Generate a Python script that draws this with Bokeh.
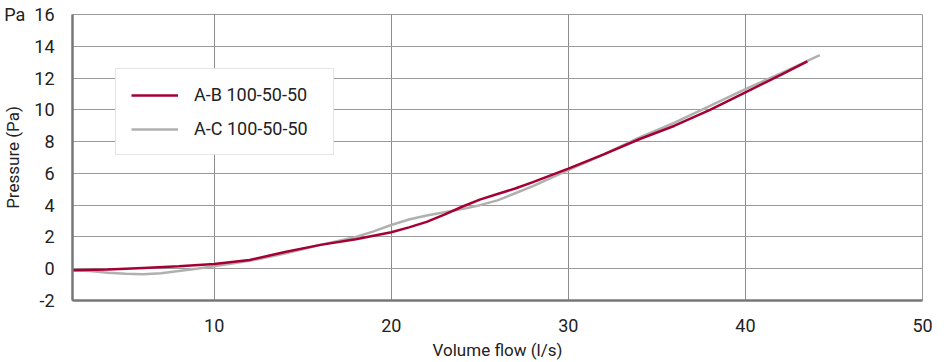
from bokeh.plotting import figure
from bokeh.models import Range1d, Legend, LegendItem, FixedTicker
from bokeh.embed import file_html
from bokeh.resources import INLINE

# Data
flow_ab = [2, 4, 6, 8, 10, 12, 14, 16, 18, 20, 21, 22, 23, 24, 25, 26, 27, 28, 30, 32, 34, 36,
           38, 40, 42, 43.5]
pres_ab = [-0.1, -0.05, 0.05, 0.15, 0.3, 0.55, 1.05, 1.5, 1.85, 2.3, 2.6, 2.95, 3.4, 3.9, 4.35,
           4.7, 5.05, 5.45, 6.3, 7.2, 8.15, 9.0, 10.0, 11.1, 12.2, 13.05]
flow_ac = [2, 3, 4, 5, 6, 7, 8, 9, 10, 12, 14, 16, 18, 19, 20, 21, 22, 23, 24, 25, 26, 27, 28,
           29, 30, 32, 34, 36, 38, 40, 42, 44.2]
pres_ac = [-0.1, -0.15, -0.25, -0.32, -0.35, -0.28, -0.15, 0.0, 0.15, 0.5, 0.95, 1.5, 2.0, 2.35,
           2.75, 3.1, 3.35, 3.55, 3.75, 4.0, 4.3, 4.75, 5.2, 5.7, 6.2, 7.2, 8.25, 9.2, 10.25,
           11.3, 12.3, 13.45]
x_ticks = [10, 20, 30, 40, 50]
y_ticks = [-2, 0, 2, 4, 6, 8, 10, 12, 14, 16]
y_tick_labels = {-2: "-2", 16: "Pa\u00a0\u00a016"}
series_names = ["A-B 100-50-50", "A-C 100-50-50"]
x_title = "Volume flow (l/s)"
y_title = "Pressure (Pa)"

RED = "#a50034"
GRAY = "#b0b0b0"
FONT = "Roboto"
TXT = "#222222"

p = figure(width=936, height=362, x_range=Range1d(2, 50), y_range=Range1d(-2, 16),
           output_backend="svg", toolbar_location=None,
           min_border_left=66, min_border_right=14, min_border_top=14, min_border_bottom=59)

p.outline_line_color = "#999999"
p.outline_line_width = 1
p.background_fill_color = "white"
p.border_fill_color = "white"

# axes
p.xaxis.ticker = FixedTicker(ticks=x_ticks)
p.yaxis.ticker = FixedTicker(ticks=y_ticks)
p.yaxis.major_label_overrides = y_tick_labels
for ax in (p.xaxis[0], p.yaxis[0]):
    ax.axis_line_color = "#777777"
    ax.axis_line_width = 2.5
    ax.major_tick_line_color = None
    ax.minor_tick_line_color = None
    ax.major_label_text_font = FONT
    ax.major_label_text_font_size = "18px"
    ax.major_label_text_color = TXT
    ax.axis_label_text_font = FONT
    ax.axis_label_text_font_size = "17px"
    ax.axis_label_text_font_style = "normal"
    ax.axis_label_text_color = TXT
p.xaxis.major_label_standoff = 12
p.yaxis.major_label_standoff = 12
p.yaxis.axis_label = y_title
p.yaxis.axis_label_standoff = -22
p.xaxis.axis_label = x_title
p.xaxis.axis_label_standoff = 5

p.xgrid.ticker = FixedTicker(ticks=x_ticks[:-1])
p.ygrid.ticker = FixedTicker(ticks=y_ticks)
p.xgrid.grid_line_color = "#8c8c8c"
p.ygrid.grid_line_color = "#9a9a9a"
p.xgrid.grid_line_width = 1
p.ygrid.grid_line_width = 1

# lines
r_ac = p.line(flow_ac, pres_ac, line_color=GRAY, line_width=2.5)
r_ab = p.line(flow_ab, pres_ab, line_color=RED, line_width=2.5)

legend = Legend(items=[LegendItem(label=series_names[0], renderers=[r_ab]),
                       LegendItem(label=series_names[1], renderers=[r_ac])],
                location=(43, 145))
legend.border_line_color = "#cccccc"
legend.border_line_width = 1.5
legend.background_fill_color = "white"
legend.background_fill_alpha = 1
legend.padding = 15
legend.spacing = 13
legend.margin = 0
legend.glyph_width = 47
legend.glyph_height = 20
legend.label_height = 20
legend.label_width = 124
legend.label_standoff = 16
legend.label_text_font = FONT
legend.label_text_font_size = "18px"
legend.label_text_color = TXT
p.add_layout(legend, "center")

open("out.html", "w").write(file_html(p, INLINE))
